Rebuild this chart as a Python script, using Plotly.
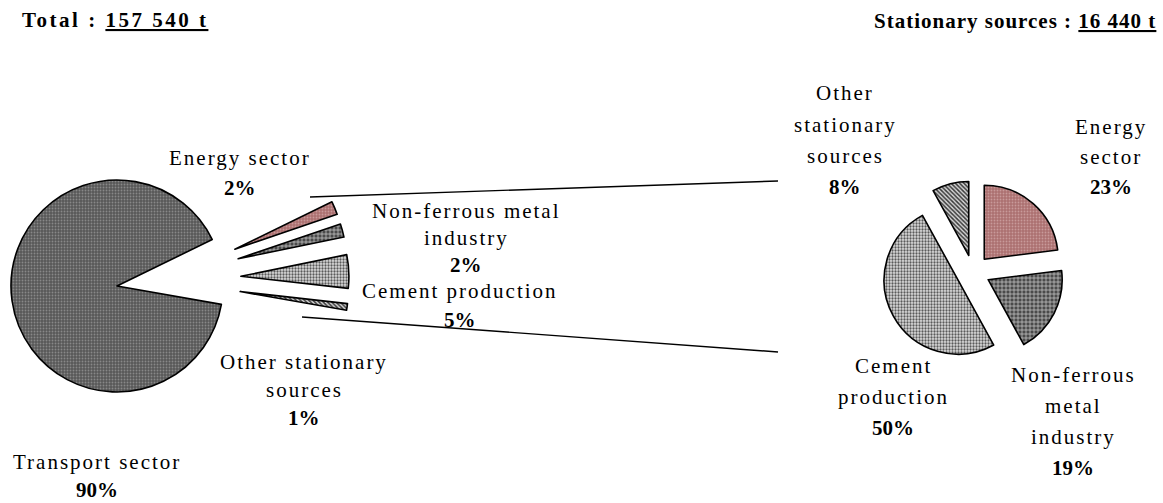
import math
import plotly.graph_objects as go

# ---------------- data ----------------
left_labels = ["Transport sector", "Energy sector", "Non-ferrous metal industry",
               "Cement production", "Other stationary sources"]
left_values = [90, 2, 2, 5, 1]
right_labels = ["Energy sector", "Non-ferrous metal industry",
                "Cement production", "Other stationary sources"]
right_values = [23, 19, 50, 8]
total_text = "157 540 t"
stationary_text = "16 440 t"

# ---------------- style ----------------
W, H = 1163, 503
FONT = "Liberation Serif, Times New Roman, serif"
LINE = dict(color="black", width=1.6)
STYLE = {
    "Transport sector": dict(bg="#585858", fg="#888888", shape=".", size=3, sol=0.3),
    "Energy sector": dict(bg="#ac7070", fg="#c89a9a", shape=".", size=3, sol=0.3),
    "Non-ferrous metal industry": dict(bg="#4a4a4a", fg="#d4d4d4", shape="+", size=4, sol=0.3),
    "Cement production": dict(bg="#dcdcdc", fg="#5a5a5a", shape=".", size=3, sol=0.45),
    "Other stationary sources": dict(bg="#d6d6d6", fg="#3a3a3a", shape="\\", size=3, sol=0.5),
}
NONE = "rgba(0,0,0,0)"


def dom(cx, cy, half):
    return dict(x=[(cx - half) / W, (cx + half) / W],
                y=[(H - (cy + half)) / H, (H - (cy - half)) / H])


def pat(names, visible):
    return dict(
        shape=[STYLE[n]["shape"] if v else "" for n, v in zip(names, visible)],
        bgcolor=[STYLE[n]["bg"] if v else NONE for n, v in zip(names, visible)],
        fgcolor=[STYLE[n]["fg"] if v else NONE for n, v in zip(names, visible)],
        size=[STYLE[n]["size"] for n in names],
        solidity=[STYLE[n]["sol"] for n in names],
        fillmode="replace",
    )


fig = go.Figure()

# ---- left pie: transport sector (the stationary slices are drawn exploded) ----
L_CX, L_CY, L_R = 117, 286, 106
tot_left = sum(left_values)
rot_left = 100  # transport starts here, stationary slices fill the gap
vis = [i == 0 for i in range(len(left_values))]
fig.add_trace(go.Pie(
    labels=left_labels, values=left_values, sort=False, direction="clockwise",
    rotation=rot_left, domain=dom(L_CX, L_CY, L_R), textinfo="none", hoverinfo="label+percent",
    marker=dict(colors=[STYLE[left_labels[0]]["bg"]] + [NONE] * 4,
                pattern=pat(left_labels, vis),
                line=dict(color=["black"] + [NONE] * 4, width=[LINE["width"]] + [0] * 4)),
    showlegend=False,
))

# exploded stationary slices
EX_OX, EX_OY, EX_D, EX_R = 160, 280, 81, 108
start = rot_left + left_values[0] / tot_left * 360
for lab, v in zip(left_labels[1:], left_values[1:]):
    span = v / tot_left * 360
    mid = math.radians(start + span / 2)
    ax = EX_OX + EX_D * math.sin(mid)
    ay = EX_OY - EX_D * math.cos(mid)
    rot = ((start + 180) % 360) - 180
    fig.add_trace(go.Pie(
        labels=[lab, "rest"], values=[v, tot_left - v], sort=False, direction="clockwise",
        rotation=rot, domain=dom(ax, ay, EX_R), textinfo="none", hoverinfo="skip",
        marker=dict(colors=[STYLE[lab]["bg"], NONE],
                    pattern=pat([lab, lab], [True, False]),
                    line=dict(color=["black", NONE], width=[LINE["width"], 0])),
        showlegend=False,
    ))
    start += span

# ---- right pie: stationary sources ----
R_CX, R_CY, R_R, R_PULL = 973, 272, 74, 0.23
fig.add_trace(go.Pie(
    labels=right_labels, values=right_values, sort=False, direction="clockwise",
    rotation=0, pull=[R_PULL] * len(right_values),
    domain=dom(R_CX, R_CY, R_R * (1 + R_PULL)), textinfo="none", hoverinfo="label+percent",
    marker=dict(colors=[STYLE[n]["bg"] for n in right_labels],
                pattern=pat(right_labels, [True] * 4),
                line=LINE),
    showlegend=False,
))

# ---- connector lines ----
shapes = [
    dict(type="line", xref="paper", yref="paper", x0=310 / W, y0=1 - 197 / H,
         x1=778 / W, y1=1 - 181 / H, line=dict(color="black", width=1.4)),
    dict(type="line", xref="paper", yref="paper", x0=302 / W, y0=1 - 317 / H,
         x1=778 / W, y1=1 - 352 / H, line=dict(color="black", width=1.4)),
]

# ---- labels ----
annotations = []
LS = "letter-spacing:2px"


def label(lines, cx, cy0, step=30, size=21):
    for k, t in enumerate(lines):
        bold = t.endswith("%")
        txt = f"<b>{t}</b>" if bold else f'<span style="{LS}">{t}</span>'
        annotations.append(dict(
            text=txt, x=cx / W, y=1 - (cy0 + k * step) / H, xref="paper", yref="paper",
            xanchor="center", yanchor="middle", showarrow=False, borderpad=0,
            font=dict(family=FONT, size=size, color="black")))


def pct(v, tot):
    return f"{round(v / tot * 100)}%"


tr = sum(right_values)
label(["Energy sector", pct(left_values[1], tot_left)], 240, 158)
label(["Non-ferrous metal", "industry", pct(left_values[2], tot_left)], 466, 211, step=27)
label(["Cement production", pct(left_values[3], tot_left)], 460, 291, step=29)
label(["Other stationary", "sources", pct(left_values[4], tot_left)], 304, 362, step=28)
label(["Transport sector", pct(left_values[0], tot_left)], 97, 462, step=28)

label(["Other", "stationary", "sources", pct(right_values[3], tr)], 845, 93, step=31.5)
label(["Energy", "sector", pct(right_values[0], tr)], 1111, 127, step=30)
label(["Non-ferrous", "metal", "industry", pct(right_values[1], tr)], 1073, 375, step=31)
label(["Cement", "production", pct(right_values[2], tr)], 893, 366, step=31)

UL = "text-decoration:underline"
annotations.append(dict(
    text=f'<b><span style="letter-spacing:2.5px">Total : </span><span style="{UL};letter-spacing:2.5px">{total_text}</span></b>',
    x=20 / W, y=1 - 20 / H, xref="paper", yref="paper", xanchor="left", yanchor="middle",
    showarrow=False, font=dict(family=FONT, size=21, color="black")))
annotations.append(dict(
    text=f'<b><span style="letter-spacing:1px">Stationary sources : </span><span style="{UL};letter-spacing:1px">{stationary_text}</span></b>',
    x=1158 / W, y=1 - 21 / H, xref="paper", yref="paper", xanchor="right", yanchor="middle",
    showarrow=False, font=dict(family=FONT, size=21, color="black")))

fig.update_layout(
    width=W, height=H, margin=dict(l=0, r=0, t=0, b=0),
    paper_bgcolor="white", plot_bgcolor="white",
    shapes=shapes, annotations=annotations, showlegend=False,
)
fig.write_html("out.html")
